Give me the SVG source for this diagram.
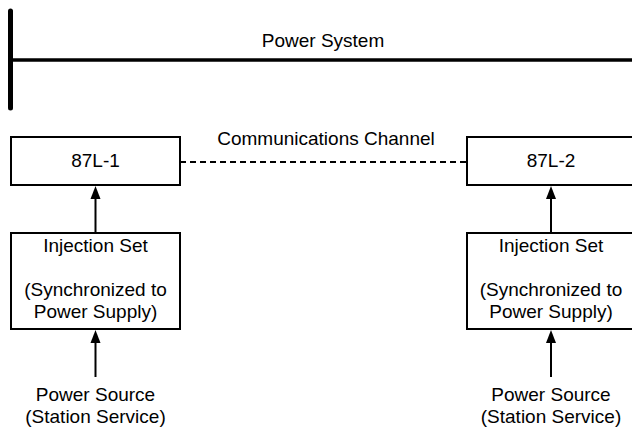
<svg xmlns="http://www.w3.org/2000/svg" width="632" height="430" viewBox="0 0 632 430">
<defs>
<style>
text{font-family:"Liberation Sans",Arial,sans-serif;font-size:19px;fill:#000;text-anchor:middle}
.box{fill:#fff;stroke:#000;stroke-width:2}
.ln{stroke:#000;stroke-width:2}
</style>
</defs>
<rect width="632" height="430" fill="#fff"/>
<g id="bus">
<line x1="10.5" y1="11" x2="10.5" y2="108" stroke="#000" stroke-width="5" stroke-linecap="round"/>
<line x1="10.5" y1="60" x2="632" y2="60" stroke="#000" stroke-width="3.5"/>
<text x="323" y="47">Power System</text>
</g>
<g id="connectors">
<line x1="180" y1="162" x2="467" y2="162" stroke="#000" stroke-width="2" stroke-dasharray="6,4"/>
<text x="326" y="145">Communications Channel</text>
<line class="ln" x1="95.5" y1="233" x2="95.5" y2="199"/>
<polygon points="95.5,186 90.5,199 100.5,199" fill="#000"/>
<line class="ln" x1="95.5" y1="377" x2="95.5" y2="343"/>
<polygon points="95.5,330 90.5,343 100.5,343" fill="#000"/>
<line class="ln" x1="551" y1="233" x2="551" y2="199"/>
<polygon points="551,186 546,199 556,199" fill="#000"/>
<line class="ln" x1="551" y1="377" x2="551" y2="343"/>
<polygon points="551,330 546,343 556,343" fill="#000"/>
</g>
<g id="relay1">
<rect class="box" x="11" y="137" width="169" height="48"/>
<text x="95.5" y="167">87L-1</text>
</g>
<g id="relay2">
<rect class="box" x="467" y="137" width="169" height="48"/>
<text x="551" y="167">87L-2</text>
</g>
<g id="inj1">
<rect class="box" x="11" y="233" width="169" height="96"/>
<text x="95.5" y="252">Injection Set</text>
<text x="95.5" y="296">(Synchronized to</text>
<text x="95.5" y="318">Power Supply)</text>
</g>
<g id="inj2">
<rect class="box" x="467" y="233" width="169" height="96"/>
<text x="551" y="252">Injection Set</text>
<text x="551" y="296">(Synchronized to</text>
<text x="551" y="318">Power Supply)</text>
</g>
<g id="src1">
<text x="95.5" y="401">Power Source</text>
<text x="95.5" y="423">(Station Service)</text>
</g>
<g id="src2">
<text x="551" y="401">Power Source</text>
<text x="551" y="423">(Station Service)</text>
</g>
</svg>
